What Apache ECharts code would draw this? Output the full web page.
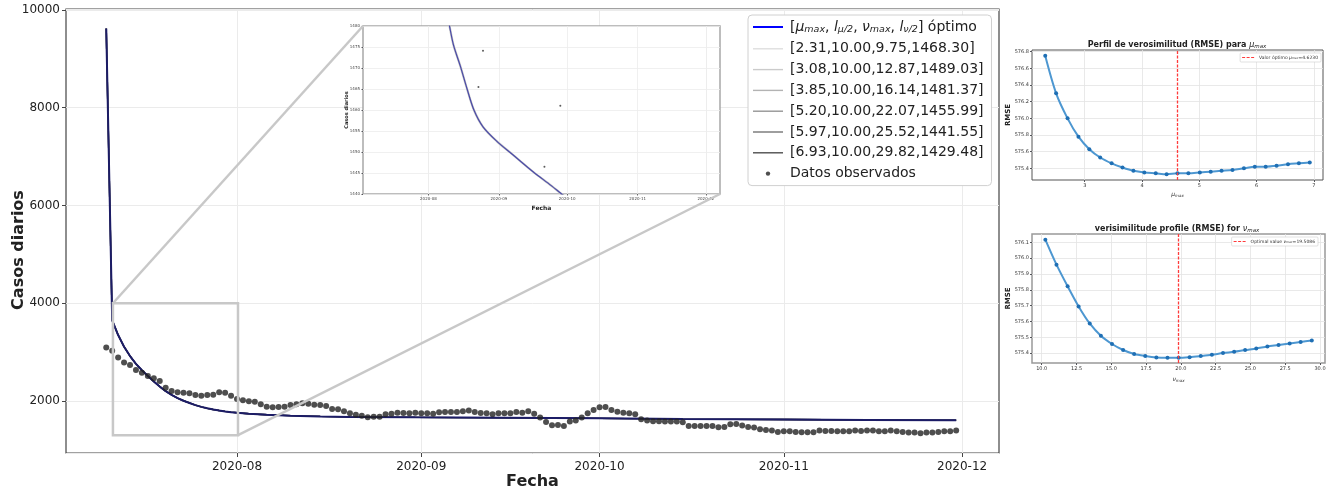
<!DOCTYPE html>
<html><head><meta charset="utf-8">
<script src="https://cdn.jsdelivr.net/npm/echarts@6/dist/echarts.min.js"></script>
<style>html,body{margin:0;padding:0;background:#fff}#c{width:1327px;height:489px}</style>
</head><body><div id="c"></div>
<script>
// ---------------- DATA ----------------
const obsStartDate = '2020-07-10';
const obsValues = [
 3096,3027,2892,2790,2735,2633,2578,2510,2463,2408,
 2271,2204,2177,2169,2157,2122,2108,2122,2129,2177,
 2169,2108,2041,2014,1994,1986,1933,1884,1871,1878,
 1884,1918,1933,1952,1945,1925,1918,1898,1837,1830,
 1789,1749,1720,1700,1667,1680,1680,1728,1741,1762,
 1755,1749,1762,1749,1749,1741,1769,1776,1776,1776,
 1789,1803,1776,1755,1749,1728,1749,1749,1749,1776,
 1762,1789,1740,1660,1571,1503,1510,1490,1578,1599,
 1660,1749,1816,1871,1878,1816,1782,1762,1749,1728,
 1626,1599,1585,1585,1578,1578,1578,1564,1490,1490,
 1490,1490,1490,1463,1469,1524,1531,1497,1469,1456,
 1422,1408,1394,1367,1381,1381,1367,1360,1360,1360,
 1394,1388,1388,1381,1381,1381,1394,1388,1394,1394,
 1381,1381,1394,1381,1367,1353,1353,1340,1353,1353,
 1367,1381,1381,1394
];
const fitDates = ['2020-07-10','2020-07-11','2020-07-12','2020-07-13','2020-07-14','2020-07-15','2020-07-16','2020-07-17','2020-07-18','2020-07-19','2020-07-20','2020-07-21','2020-07-22','2020-07-23','2020-07-24','2020-07-25','2020-07-26','2020-07-27','2020-07-28','2020-07-29','2020-07-30','2020-07-31','2020-08-01','2020-08-03','2020-08-06','2020-08-10','2020-08-15','2020-08-20','2020-08-31','2020-09-15','2020-10-01','2020-10-15','2020-11-01','2020-11-15','2020-11-30'];
const fitValues = [9620,3650,3350,3110,2920,2760,2630,2510,2400,2295,2200,2125,2060,2005,1960,1915,1880,1850,1825,1805,1787,1772,1760,1740,1718,1700,1685,1675,1665,1655,1645,1630,1620,1612,1605];
const optName = '[μmax, lμ/2, νmax, lν/2] óptimo';
const fitNames = ['[2.31,10.00,9.75,1468.30]','[3.08,10.00,12.87,1489.03]','[3.85,10.00,16.14,1481.37]','[5.20,10.00,22.07,1455.99]','[5.97,10.00,25.52,1441.55]','[6.93,10.00,29.82,1429.48]'];
const obsName = 'Datos observados';
const monthTicks = ['2020-08-01','2020-09-01','2020-10-01','2020-11-01','2020-12-01'];
const zoomBoxX = ['2020-07-11 03:00','2020-08-01 04:00'];
const zoomBoxY = [1300, 4000];
const insetFitDates = ['2020-08-09','2020-08-10','2020-08-12','2020-08-15','2020-08-18','2020-08-21','2020-08-25','2020-08-31','2020-09-07','2020-09-16','2020-09-24','2020-09-29','2020-10-02'];
const insetFitValues = [1483,1480.7,1475.5,1470.5,1465,1460,1456,1452.6,1449.4,1445.3,1442,1439.8,1438.6];
const insetObsDates = ['2020-08-23','2020-08-25','2020-09-21','2020-09-28'];
const insetObsValues = [1465.5,1474.1,1446.5,1461.0];
const muVals = [2.31,2.50,2.70,2.89,3.08,3.27,3.47,3.66,3.85,4.04,4.24,4.43,4.62,4.81,5.01,5.20,5.39,5.58,5.78,5.97,6.16,6.35,6.55,6.74,6.93];
const rmseMu = [576.75,576.30,576.00,575.78,575.63,575.53,575.46,575.41,575.37,575.35,575.34,575.33,575.34,575.34,575.35,575.36,575.37,575.38,575.40,575.42,575.42,575.43,575.45,575.46,575.47];
const optMu = 4.6230;
const nuVals = [10.26,11.06,11.86,12.65,13.45,14.25,15.05,15.85,16.64,17.44,18.24,19.04,19.84,20.63,21.43,22.23,23.03,23.83,24.62,25.42,26.22,27.02,27.82,28.61,29.41];
const rmseNu = [576.117,575.959,575.822,575.695,575.587,575.509,575.457,575.419,575.394,575.381,575.372,575.370,575.370,575.374,575.381,575.389,575.400,575.408,575.419,575.429,575.442,575.451,575.461,575.470,575.480];
const optNu = 19.80;
const muTicks = [3,4,5,6,7];
const rmseMuTicks = [575.4,575.6,575.8,576.0,576.2,576.4,576.6,576.8];
const nuTicks = [10,12.5,15,17.5,20,22.5,25,27.5,30];
const rmseNuTicks = [575.4,575.5,575.6,575.7,575.8,575.9,576.0,576.1];
const insetYTicks = [1440,1445,1450,1455,1460,1465,1470,1475,1480];

// ---------------- BUILD ----------------
const F = 'DejaVu Sans';
const pd = s => +echarts.number.parseDate(s);
const obsData = obsValues.map((v, i) => {
  const d = new Date(2020, 6, 10 + i);
  return [d.getTime(), v];
});
const fitData = fitDates.map((d, i) => [pd(d), fitValues[i]]);
const insetFit = insetFitDates.map((d, i) => [pd(d), insetFitValues[i]]);
const insetObs = insetObsDates.map((d, i) => [pd(d), insetObsValues[i]]);
const monthTs = monthTicks.map(pd);
const xMin = pd('2020-07-03 05:30'), xMax = pd('2020-12-07 05:00');
const greys = ['#dedede','#cbcbcb','#b3b3b3','#959595','#747474','#4f4f4f'];

const chart = echarts.init(document.getElementById('c'), null, {renderer: 'canvas'});
const smallLab = {fontFamily: F, fontSize: 5, color: '#333', margin: 3};
const splitL = {show: true, lineStyle: {color: '#e3e3e3', width: 0.8}};

const series = [];
fitNames.forEach((n, k) => series.push({name: n, type: 'line', xAxisIndex: 0, yAxisIndex: 0, data: fitData, symbol: 'none',
  lineStyle: {color: greys[k], width: 1.4}, itemStyle: {color: greys[k]}, z: 2}));
series.push({name: optName, type: 'line', xAxisIndex: 0, yAxisIndex: 0, data: fitData, symbol: 'none',
  lineStyle: {color: '#1c1c66', width: 2}, itemStyle: {color: '#0000ff'}, z: 3});
series.push({name: obsName, type: 'scatter', xAxisIndex: 0, yAxisIndex: 0, data: obsData, symbolSize: 6,
  itemStyle: {color: '#222'}, z: 4});
// inset
series.push({name: 'insetFitGrey', type: 'line', xAxisIndex: 1, yAxisIndex: 1, data: insetFit, symbol: 'none', smooth: 0.3,
  lineStyle: {color: '#c4c4c4', width: 2.2}, z: 3, silent: true, clip: true});
series.push({name: 'insetFit', type: 'line', xAxisIndex: 1, yAxisIndex: 1, data: insetFit, symbol: 'none', smooth: 0.3,
  lineStyle: {color: '#4a4aa8', width: 1.2}, z: 4, silent: true, clip: true});
series.push({name: 'insetObs', type: 'scatter', xAxisIndex: 1, yAxisIndex: 1, data: insetObs, symbolSize: 2,
  itemStyle: {color: '#333'}, z: 5, silent: true});
// profile mu
series.push({name: 'perfilMu', type: 'line', xAxisIndex: 2, yAxisIndex: 2, data: muVals.map((m, i) => [m, rmseMu[i]]),
  symbol: 'circle', symbolSize: 4, lineStyle: {color: '#4d97d1', width: 2}, itemStyle: {color: '#1f6fb4'}, smooth: 0.3});
series.push({name: 'Valor óptimo μmax=4.6230', type: 'line', xAxisIndex: 2, yAxisIndex: 2, data: [], symbol: 'none',
  lineStyle: {color: '#ff3b3b', width: 1}, itemStyle: {color: '#ff3b3b'},
  markLine: {silent: true, symbol: 'none', label: {show: false}, lineStyle: {color: '#ff3b3b', width: 1.3, type: [3, 1.5]}, data: [{xAxis: optMu}]}});
// profile nu
series.push({name: 'perfilNu', type: 'line', xAxisIndex: 3, yAxisIndex: 3, data: nuVals.map((m, i) => [m, rmseNu[i]]),
  symbol: 'circle', symbolSize: 4, lineStyle: {color: '#4d97d1', width: 2}, itemStyle: {color: '#1f6fb4'}, smooth: 0.3});
series.push({name: 'Optimal value νmax=19.5086', type: 'line', xAxisIndex: 3, yAxisIndex: 3, data: [], symbol: 'none',
  lineStyle: {color: '#ff3b3b', width: 1}, itemStyle: {color: '#ff3b3b'},
  markLine: {silent: true, symbol: 'none', label: {show: false}, lineStyle: {color: '#ff3b3b', width: 1.3, type: [3, 1.5]}, data: [{xAxis: optNu}]}});

const dotIcon = 'path://M0 0M30 14M12.8 7a2.2 2.2 0 1 0 4.4 0a2.2 2.2 0 1 0 -4.4 0z';
const blueIcon = 'path://M0 0M30 14M0 6h30v2h-30z';
const greyIcon = 'path://M0 0M30 14M0 6.3h30v1.4h-30z';
const dashIcon = 'path://M0 0M12 4M0 1.5h3v1h-3zM4.5 1.5h3v1h-3zM9 1.5h3v1h-3z';
const nmo = {nameMoveOverlap: false};

const option = {
  animation: false,
  backgroundColor: '#fff',
  textStyle: {fontFamily: F},
  grid: [
    {left: 66, top: 9, width: 933, height: 444, show: true, borderColor: '#444', borderWidth: 1.2, backgroundColor: 'transparent', outerBoundsMode: 'none', containLabel: false},
    {left: 363, top: 26, width: 357, height: 168, show: true, borderColor: '#a8a8a8', borderWidth: 1.5, backgroundColor: '#fff', z: 1, outerBoundsMode: 'none', containLabel: false},
    {left: 1032, top: 50, width: 291, height: 130, show: true, borderColor: '#555', borderWidth: 1, outerBoundsMode: 'none', containLabel: false},
    {left: 1032, top: 234, width: 293, height: 129, show: true, borderColor: '#999', borderWidth: 1.5, outerBoundsMode: 'none', containLabel: false}
  ],
  xAxis: [
    Object.assign({type: 'time', gridIndex: 0, min: xMin, max: xMax,
     axisLine: {show: false}, axisTick: {show: true, customValues: monthTs, length: 4, lineStyle: {color: '#444'}},
     axisLabel: {customValues: monthTs, formatter: '{yyyy}-{MM}', fontFamily: F, fontSize: 12, color: '#222', margin: 8, hideOverlap: false},
     splitLine: {show: true, lineStyle: {color: '#ebebeb'}},
     name: 'Fecha', nameLocation: 'middle', nameGap: 21, nameTextStyle: {fontFamily: F, fontSize: 16, fontWeight: 'bold', color: '#222'}}, nmo),
    Object.assign({type: 'time', gridIndex: 1, min: xMin, max: xMax, z: 2,
     axisLine: {show: false}, axisTick: {show: true, customValues: monthTs, length: 1.5, lineStyle: {color: '#666'}},
     axisLabel: {customValues: monthTs, formatter: '{yyyy}-{MM}', fontFamily: F, fontSize: 4, color: '#444', margin: 3},
     splitLine: {show: true, lineStyle: {color: '#ececec', width: 0.8}},
     name: 'Fecha', nameLocation: 'middle', nameGap: 11, nameTextStyle: {fontFamily: F, fontSize: 6, fontWeight: 'bold', color: '#222'}}, nmo),
    Object.assign({type: 'value', gridIndex: 2, min: 2.079, max: 7.161,
     axisLine: {show: false}, axisTick: {show: true, customValues: muTicks, length: 2},
     axisLabel: Object.assign({customValues: muTicks}, smallLab), splitLine: splitL,
     name: '{m|μ}{s|max}', nameLocation: 'middle', nameGap: 11,
     nameTextStyle: {fontFamily: F, fontSize: 6, color: '#333', rich: {m: {fontSize: 6, fontStyle: 'italic'}, s: {fontSize: 4, fontStyle: 'italic', padding: [3, 0, 0, 0]}}}}, nmo),
    Object.assign({type: 'value', gridIndex: 3, min: 9.30, max: 30.36,
     axisLine: {show: false}, axisTick: {show: true, customValues: nuTicks, length: 2},
     axisLabel: Object.assign({customValues: nuTicks, formatter: v => v.toFixed(1)}, smallLab), splitLine: splitL,
     name: '{m|ν}{s|max}', nameLocation: 'middle', nameGap: 13,
     nameTextStyle: {fontFamily: F, fontSize: 6, color: '#333', rich: {m: {fontSize: 6, fontStyle: 'italic'}, s: {fontSize: 4, fontStyle: 'italic', padding: [3, 0, 0, 0]}}}}, nmo)
  ],
  yAxis: [
    Object.assign({type: 'value', gridIndex: 0, min: 936, max: 10020, splitNumber: 5,
     axisLine: {show: false}, axisTick: {show: true, length: 4, lineStyle: {color: '#444'}},
     axisLabel: {formatter: v => String(v), fontFamily: F, fontSize: 12, color: '#222', margin: 6, showMinLabel: false, showMaxLabel: false},
     splitLine: {show: true, lineStyle: {color: '#ebebeb'}},
     name: 'Casos diarios', nameLocation: 'middle', nameGap: 39,
     nameTextStyle: {fontFamily: F, fontSize: 16, fontWeight: 'bold', color: '#222', padding: [0, 38, 0, 0]}}, nmo),
    Object.assign({type: 'value', gridIndex: 1, min: 1440, max: 1480, z: 2,
     axisLine: {show: false}, axisTick: {show: true, customValues: insetYTicks, length: 1.5},
     axisLabel: {customValues: insetYTicks, formatter: v => String(v), fontFamily: F, fontSize: 4, color: '#444', margin: 3},
     splitLine: {show: true, lineStyle: {color: '#ececec', width: 0.8}},
     name: 'Casos diarios', nameLocation: 'middle', nameGap: 14,
     nameTextStyle: {fontFamily: F, fontSize: 5, fontWeight: 'bold', color: '#222'}}, nmo),
    Object.assign({type: 'value', gridIndex: 2, min: 575.26, max: 576.82,
     axisLine: {show: false}, axisTick: {show: true, customValues: rmseMuTicks, length: 2},
     axisLabel: Object.assign({customValues: rmseMuTicks, formatter: v => v.toFixed(1)}, smallLab), splitLine: splitL,
     name: 'RMSE', nameLocation: 'middle', nameGap: 20, nameTextStyle: {fontFamily: F, fontSize: 7, fontWeight: 'bold', color: '#222'}}, nmo),
    Object.assign({type: 'value', gridIndex: 3, min: 575.337, max: 576.153,
     axisLine: {show: false}, axisTick: {show: true, customValues: rmseNuTicks, length: 2},
     axisLabel: Object.assign({customValues: rmseNuTicks, formatter: v => v.toFixed(1)}, smallLab), splitLine: splitL,
     name: 'RMSE', nameLocation: 'middle', nameGap: 20, nameTextStyle: {fontFamily: F, fontSize: 7, fontWeight: 'bold', color: '#222'}}, nmo)
  ],
  legend: [
    {left: 748, top: 15, orient: 'vertical', backgroundColor: '#fff', borderColor: '#d0d0d0', borderWidth: 1, borderRadius: 4,
     padding: [5, 8, 5, 5], itemWidth: 30, itemHeight: 14, itemGap: 6.8, z: 10,
     data: [{name: optName, icon: blueIcon}].concat(fitNames.map(n => ({name: n, icon: greyIcon}))).concat([{name: obsName, icon: dotIcon}]),
     formatter: n => n === optName ? '[{i|μ}{s|max}, {i|l}{s|μ/2}, {i|ν}{s|max}, {i|l}{s|ν/2}] óptimo' : n,
     textStyle: {fontFamily: F, fontSize: 14, color: '#222', padding: [0, 0, 0, 2],
       rich: {i: {fontFamily: F, fontSize: 14, fontStyle: 'italic', color: '#222'}, s: {fontFamily: F, fontSize: 9.5, fontStyle: 'italic', color: '#222', padding: [6, 0, 0, 0]}}}},
    {right: 6, top: 53, orient: 'vertical', backgroundColor: '#fff', borderColor: '#ccc', borderWidth: 0.6, borderRadius: 1,
     padding: [2, 3, 2, 2], itemWidth: 12, itemHeight: 4, data: [{name: 'Valor óptimo μmax=4.6230', icon: dashIcon}],
     formatter: () => 'Valor óptimo {i|μ}{s|max}=4.6230',
     textStyle: {fontFamily: F, fontSize: 4.5, color: '#333', rich: {i: {fontSize: 4.5, fontStyle: 'italic'}, s: {fontSize: 3, fontStyle: 'italic', padding: [2, 0, 0, 0]}}}},
    {right: 9, top: 237, orient: 'vertical', backgroundColor: '#fff', borderColor: '#ccc', borderWidth: 0.6, borderRadius: 1,
     padding: [2, 3, 2, 2], itemWidth: 12, itemHeight: 4, data: [{name: 'Optimal value νmax=19.5086', icon: dashIcon}],
     formatter: () => 'Optimal value {i|ν}{s|max}=19.5086',
     textStyle: {fontFamily: F, fontSize: 4.5, color: '#333', rich: {i: {fontSize: 4.5, fontStyle: 'italic'}, s: {fontSize: 3, fontStyle: 'italic', padding: [2, 0, 0, 0]}}}}
  ],
  series: series
};
chart.setOption(option);

// zoom box + connectors computed through the main and inset scales
const tl = chart.convertToPixel({xAxisIndex: 0, yAxisIndex: 0}, [pd(zoomBoxX[0]), zoomBoxY[1]]);
const br = chart.convertToPixel({xAxisIndex: 0, yAxisIndex: 0}, [pd(zoomBoxX[1]), zoomBoxY[0]]);
const itl = chart.convertToPixel({xAxisIndex: 1, yAxisIndex: 1}, [xMin, 1480]);
const ibr = chart.convertToPixel({xAxisIndex: 1, yAxisIndex: 1}, [xMax, 1440]);
const boxColor = '#c8c8c8';
const titleRich = {m: {fontFamily: F, fontSize: 8, fontStyle: 'italic', fill: '#222'}, s: {fontFamily: F, fontSize: 5.5, fontStyle: 'italic', fill: '#222', padding: [4, 0, 0, 0]}};
chart.setOption({
  graphic: [
    {type: 'rect', shape: {x: tl[0], y: tl[1], width: br[0] - tl[0], height: br[1] - tl[1]},
     style: {fill: 'none', stroke: boxColor, lineWidth: 2.5}, z: 20, silent: true},
    {type: 'line', shape: {x1: tl[0], y1: tl[1], x2: itl[0], y2: itl[1]}, style: {stroke: boxColor, lineWidth: 2.5}, z: 20, silent: true},
    {type: 'line', shape: {x1: br[0], y1: br[1], x2: ibr[0], y2: ibr[1]}, style: {stroke: boxColor, lineWidth: 2.5}, z: 20, silent: true},
    {type: 'text', x: 1177, y: 45, silent: true, z: 20,
     style: {text: 'Perfil de verosimilitud (RMSE) para {m|μ}{s|max}', font: 'bold 8px "DejaVu Sans"', fill: '#222', align: 'center', verticalAlign: 'middle', rich: titleRich}},
    {type: 'text', x: 1177, y: 229, silent: true, z: 20,
     style: {text: 'verisimilitude profile (RMSE) for {m|ν}{s|max}', font: 'bold 8px "DejaVu Sans"', fill: '#222', align: 'center', verticalAlign: 'middle', rich: titleRich}}
  ]
});
</script></body></html>
